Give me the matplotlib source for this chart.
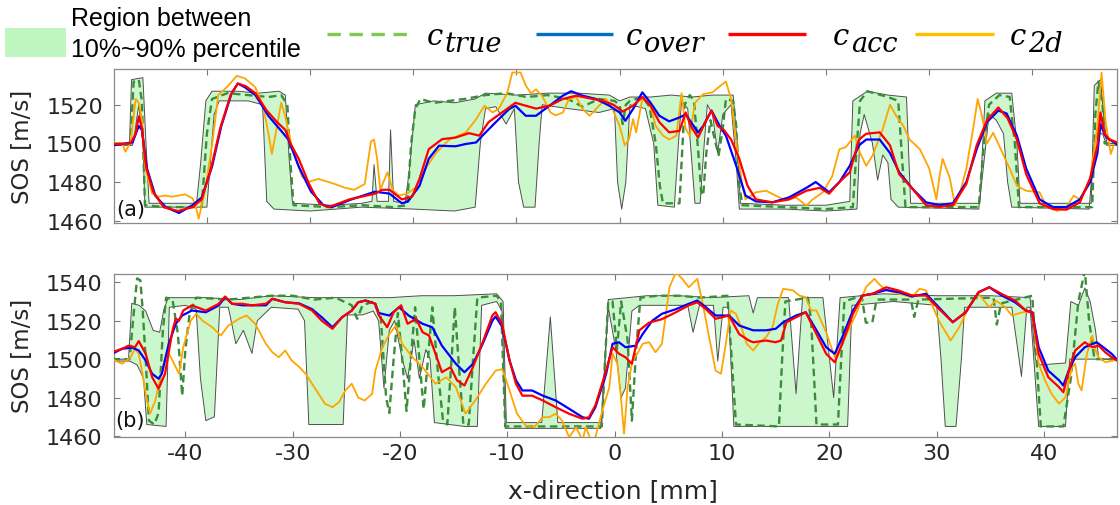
import matplotlib
matplotlib.use("Agg")
import matplotlib.pyplot as plt
import numpy as np
from matplotlib.patches import Rectangle

plt.rcParams["font.family"] = "DejaVu Sans"
plt.rcParams["axes.unicode_minus"] = False

# ---------------- panel (a) ----------------
a_true = [(-49.0, 1500), (-47.4, 1500), (-47.1, 1532), (-46.6, 1533), (-46.3, 1522), (-46.0, 1468), (-44, 1467),
          (-40.5, 1467), (-40.0, 1505), (-39.5, 1523), (-38, 1526), (-36, 1525), (-34, 1524), (-32.8, 1525),
          (-32.2, 1520), (-31.9, 1490), (-31.6, 1468), (-28, 1467), (-25, 1468), (-22, 1467), (-20.6, 1468),
          (-20.2, 1500), (-19.8, 1518), (-19.3, 1523), (-18, 1521), (-16.5, 1522), (-15, 1523), (-13, 1525),
          (-11, 1526), (-9, 1524), (-7, 1525), (-5, 1523), (-3.6, 1519), (-2, 1523), (-0.5, 1522), (0.0, 1520),
          (0.3, 1510), (0.6, 1520), (1.0, 1522), (2.2, 1524), (2.9, 1519), (3.5, 1500), (3.9, 1478), (4.2, 1469),
          (5.8, 1469), (6.1, 1500), (6.3, 1520), (6.8, 1525), (7.2, 1522), (7.6, 1497), (7.9, 1475), (8.1, 1473),
          (8.4, 1495), (8.8, 1512), (9.3, 1500), (9.6, 1494), (10.0, 1508), (10.3, 1523), (11.0, 1522),
          (11.3, 1509), (11.6, 1478), (11.9, 1468), (16, 1467), (20, 1466), (22.6, 1467), (23.0, 1500),
          (23.3, 1522), (24, 1527), (26, 1524), (27.0, 1522), (27.4, 1490), (27.7, 1467), (34.8, 1467),
          (35.3, 1500), (35.8, 1520), (36.8, 1525), (37.8, 1524), (38.3, 1500), (38.7, 1467), (45.8, 1467),
          (46.1, 1515), (46.4, 1532), (46.8, 1520), (47.0, 1500), (48.2, 1500)]

a_up = [(-49.0, 1500), (-47.5, 1500), (-47.3, 1533), (-46.2, 1534), (-45.9, 1500), (-45.6, 1469), (-41.0, 1469),
        (-40.6, 1490), (-40.1, 1522), (-39.5, 1527), (-37, 1527), (-35, 1526), (-33, 1527), (-32.4, 1525),
        (-32.0, 1490), (-31.7, 1469), (-28, 1468), (-25, 1469), (-24.0, 1470), (-23.8, 1489), (-23.5, 1470),
        (-22.4, 1470), (-22.2, 1507), (-21.9, 1470), (-20.8, 1469), (-20.4, 1485), (-19.8, 1520), (-18, 1522),
        (-16, 1521), (-14, 1523), (-13, 1526), (-10, 1525), (-7, 1526), (-4, 1526), (-1, 1525), (0, 1522),
        (1, 1524), (3, 1524), (5, 1525), (7, 1524), (9, 1525), (11, 1525), (11.4, 1500), (11.7, 1469),
        (16, 1468), (20, 1468), (22.3, 1470), (22.6, 1522), (24, 1527), (26, 1525), (27.8, 1524), (28.2, 1469),
        (34.9, 1469), (35.4, 1522), (36.5, 1526), (38.0, 1526), (38.5, 1500), (38.8, 1469), (45.7, 1469),
        (46.0, 1530), (46.6, 1533), (46.9, 1515), (47.2, 1500), (48.2, 1500)]

a_lo = [(-49.0, 1499), (-47.2, 1499), (-47.0, 1505), (-46.6, 1520), (-46.2, 1500), (-46.0, 1467), (-40, 1467),
        (-39.3, 1515), (-38.8, 1522), (-36, 1522), (-34.6, 1520), (-34.2, 1470), (-33.5, 1466), (-30, 1465),
        (-25, 1467), (-20, 1466), (-16, 1465), (-14, 1467), (-13.5, 1500), (-13.0, 1518), (-12, 1519),
        (-11, 1510), (-10.2, 1518), (-9.8, 1480), (-9.3, 1467), (-8.2, 1467), (-7.8, 1500), (-7.5, 1520),
        (-5, 1518), (-2, 1516), (-0.5, 1518), (-0.2, 1480), (0.2, 1466), (0.6, 1480), (1.0, 1520), (2.5, 1518),
        (3.3, 1500), (3.7, 1468), (5.3, 1467), (5.7, 1500), (6.0, 1522), (6.6, 1518), (7.0, 1490), (7.3, 1469),
        (7.8, 1469), (8.2, 1500), (8.5, 1520), (9.0, 1515), (9.5, 1495), (10.0, 1515), (10.8, 1520),
        (11.3, 1490), (11.6, 1466), (16, 1466), (20, 1465), (23.0, 1466), (23.3, 1505), (23.7, 1515),
        (24.5, 1500), (25.0, 1481), (25.5, 1494), (26.0, 1490), (26.3, 1471), (27, 1467), (34.8, 1466),
        (35.3, 1490), (35.8, 1515), (36.5, 1512), (37.2, 1505), (37.6, 1480), (38.0, 1467), (45.5, 1466),
        (46.0, 1500), (46.3, 1505), (46.8, 1505), (47.2, 1499), (48.2, 1499)]

a_over = [(-49.1, 1499), (-47.2, 1500.5), (-46.6, 1509), (-46.3, 1507), (-45.8, 1487), (-45.0, 1473),
          (-44.0, 1467), (-42.7, 1464), (-41.4, 1468), (-40.5, 1472), (-39.5, 1488), (-38.6, 1509),
          (-37.6, 1526), (-37.0, 1531), (-36.3, 1529), (-35.3, 1525), (-34.0, 1514), (-32.8, 1506.5),
          (-32.1, 1502), (-31.1, 1488), (-29.9, 1475), (-28.7, 1468), (-27.9, 1467), (-26, 1471), (-23.7, 1475),
          (-22.3, 1474), (-21.1, 1469), (-20.5, 1470), (-19.4, 1478), (-18.5, 1492), (-17.5, 1498.8),
          (-15.9, 1498.5), (-14.9, 1499.7), (-13.9, 1500.5), (-13.3, 1504), (-12.0, 1511), (-10.7, 1517.8),
          (-10.1, 1519.5), (-9.1, 1514.3), (-8.1, 1514.3), (-6.8, 1519.5), (-5.5, 1524.7), (-4.7, 1527),
          (-3.6, 1524.7), (-2.3, 1523), (-1.0, 1519.5), (0, 1516), (0.55, 1511.7), (1.3, 1517.8), (2.2, 1526.4),
          (3.0, 1521), (3.85, 1514.3), (4.8, 1511.4), (5.8, 1513.4), (6.4, 1515), (7.6, 1505.7), (8.1, 1509),
          (8.9, 1517), (9.7, 1509), (10.3, 1504), (11.3, 1488.4), (12.2, 1473), (13.2, 1470), (14.8, 1469.5),
          (16.4, 1472), (18.1, 1477), (19.0, 1480), (20.3, 1474.7), (21.3, 1480), (22.3, 1488.4), (23.2, 1499),
          (23.9, 1502), (25.2, 1502), (26.2, 1495), (27.1, 1485), (28.4, 1476.4), (29.7, 1469.5), (31.0, 1468),
          (32.3, 1469), (33.6, 1480), (34.6, 1497), (35.6, 1511), (36.7, 1517), (37.5, 1515.5), (38.5, 1504),
          (39.4, 1487), (40.7, 1471), (42.0, 1467), (43.3, 1467), (44.6, 1471), (45.6, 1480), (46.3, 1495),
          (46.6, 1510), (46.9, 1506), (47.2, 1503), (48.2, 1499.5)]

a_acc = [(-49.1, 1499.5), (-47.4, 1500), (-46.9, 1505), (-46.6, 1514), (-46.3, 1508), (-45.9, 1488),
         (-45.2, 1475), (-44.2, 1467), (-42.8, 1465), (-41.4, 1467), (-40.5, 1471), (-39.6, 1487),
         (-38.7, 1508), (-37.7, 1525), (-37.0, 1531), (-36.2, 1529.5), (-35.3, 1526), (-34.2, 1517),
         (-33.2, 1511), (-32.4, 1507), (-31.9, 1500), (-31.1, 1492), (-30.1, 1479), (-29.1, 1469),
         (-28.2, 1467), (-26.2, 1471), (-23.7, 1474), (-23.0, 1476), (-22.3, 1476), (-21.1, 1471),
         (-20.1, 1472.5), (-19.4, 1481.6), (-18.5, 1497), (-17.2, 1502.2), (-15.9, 1503), (-14.6, 1505.3),
         (-13.6, 1504), (-12.7, 1511), (-11.4, 1516), (-10.1, 1521), (-9.1, 1519.5), (-8.1, 1518),
         (-6.8, 1519.5), (-5.5, 1523), (-4.2, 1524.7), (-2.6, 1523), (-1.6, 1522), (-0.6, 1520), (0.3, 1516.5),
         (1.3, 1519.5), (2.2, 1524), (3.0, 1519.5), (3.85, 1511), (4.8, 1505.7), (5.8, 1506.5), (6.4, 1516),
         (6.9, 1509), (7.6, 1503), (8.3, 1511), (8.9, 1517), (9.5, 1509), (10.1, 1507), (10.8, 1502),
         (11.6, 1492), (12.4, 1478), (13.2, 1471), (14.8, 1469.5), (16.4, 1471), (18.1, 1475.5), (19.4, 1477),
         (20.3, 1474), (21.3, 1480), (22.3, 1485), (23.2, 1502), (23.9, 1505), (25.2, 1505.7), (26.2, 1499),
         (27.1, 1484), (28.4, 1476.4), (29.7, 1468), (31.0, 1467.2), (32.3, 1468), (33.6, 1479), (34.6, 1499),
         (35.6, 1512), (36.7, 1518.6), (37.6, 1513), (38.5, 1502), (39.4, 1484), (40.7, 1469), (42.0, 1466),
         (43.3, 1465.7), (44.6, 1469.5), (45.6, 1482), (46.3, 1499), (46.6, 1516), (47.0, 1505), (47.5, 1502),
         (48.2, 1500.5)]

a_2d = [(-49.1, 1500), (-48.2, 1500), (-47.9, 1495.7), (-47.4, 1500.5), (-46.9, 1523), (-46.6, 1521),
        (-46.3, 1512.6), (-46.0, 1488), (-45.3, 1474), (-44.7, 1472.4), (-44.0, 1473), (-43.4, 1472.4),
        (-42.1, 1473.6), (-41.4, 1471.6), (-41.1, 1468), (-40.8, 1461), (-40.5, 1468), (-40.2, 1475),
        (-39.5, 1499), (-38.9, 1525), (-37.9, 1530), (-37.1, 1535), (-36.3, 1533.6), (-35.3, 1529),
        (-34.5, 1518.6), (-34.0, 1504), (-33.7, 1494.5), (-33.2, 1509), (-32.8, 1521), (-32.4, 1514),
        (-31.8, 1499), (-30.8, 1483), (-30.2, 1480), (-29.2, 1481.6), (-28.2, 1480), (-27.6, 1479),
        (-26.6, 1477), (-25.7, 1476), (-24.7, 1479), (-24.1, 1501), (-23.8, 1502), (-23.5, 1492), (-23.2, 1476),
        (-22.5, 1485), (-22.0, 1476), (-21.4, 1473), (-20.6, 1474), (-19.8, 1477), (-18.8, 1487), (-17.8, 1495),
        (-16.5, 1502), (-14.9, 1505.7), (-13.9, 1512.6), (-13.1, 1519.5), (-12.3, 1516), (-11.7, 1518),
        (-10.9, 1526), (-10.4, 1536.7), (-9.6, 1536.7), (-9.1, 1530), (-8.6, 1526), (-8.1, 1528), (-7.5, 1524.5),
        (-6.7, 1516), (-6.2, 1514.5), (-5.5, 1516), (-4.9, 1523), (-4.2, 1524), (-3.6, 1517.8), (-2.9, 1514.3),
        (-2.0, 1519.5), (-1.3, 1523), (-0.7, 1517.8), (0, 1509), (0.5, 1499), (0.9, 1502), (1.3, 1512.6),
        (1.6, 1505.7), (2.2, 1523), (2.9, 1521), (3.5, 1509), (4.2, 1504), (4.8, 1502), (5.5, 1504), (6.0, 1526),
        (6.4, 1507.5), (6.8, 1504), (7.3, 1521), (8.1, 1525.5), (9.0, 1526.4), (9.8, 1530), (10.3, 1532),
        (10.8, 1523), (11.3, 1500.5), (11.9, 1478), (12.2, 1471), (13.2, 1474.7), (14.2, 1475.5), (15.1, 1473),
        (16.1, 1470.5), (17.1, 1472), (18.1, 1467.8), (18.7, 1471), (19.7, 1474.7), (20.6, 1483), (21.3, 1497),
        (21.9, 1498), (22.8, 1504), (23.3, 1495), (23.9, 1488.4), (24.5, 1493.6), (25.5, 1507.4), (26.2, 1520),
        (26.8, 1514.3), (27.5, 1509), (28.1, 1502), (29.1, 1497), (30.0, 1487), (30.7, 1471), (31.0, 1483),
        (31.3, 1492), (32.0, 1482), (32.5, 1468), (33.0, 1474.7), (33.6, 1487), (34.3, 1509), (34.7, 1523),
        (35.1, 1514.5), (35.6, 1500), (36.2, 1505.5), (37.2, 1494), (37.8, 1487), (38.5, 1478), (39.4, 1475.5),
        (40.7, 1474.7), (41.3, 1468), (42.4, 1465), (43.3, 1467), (44.0, 1473), (44.6, 1471), (45.6, 1481.5),
        (46.3, 1509), (46.7, 1536.7), (47.1, 1511), (47.6, 1494.5), (48.0, 1501), (48.2, 1500)]

# ---------------- panel (b) ----------------
b_true = [(-46.8, 1500), (-45.2, 1500), (-44.8, 1525), (-44.5, 1542), (-44.2, 1541), (-44.0, 1527), (-43.7, 1500),
          (-43.4, 1468), (-42.9, 1466), (-42.5, 1472), (-42.1, 1515), (-41.8, 1532), (-41.2, 1531), (-40.7, 1513),
          (-40.3, 1481), (-40.0, 1505), (-39.6, 1524), (-39.0, 1532), (-36, 1531), (-34, 1532), (-32, 1533),
          (-30, 1533), (-28, 1531), (-26, 1532), (-24.5, 1528), (-24.0, 1521), (-23.5, 1528), (-22.5, 1530),
          (-21.8, 1522), (-21.3, 1480), (-21.0, 1472), (-20.6, 1500), (-20.2, 1524), (-19.8, 1500), (-19.4, 1473),
          (-19.0, 1500), (-18.6, 1527), (-18.2, 1500), (-17.8, 1474), (-17.4, 1500), (-17.0, 1527), (-16.5, 1495),
          (-16.0, 1468), (-15.6, 1466), (-15.2, 1500), (-14.9, 1527), (-14.5, 1495), (-14.1, 1466), (-13.6, 1466),
          (-13.2, 1500), (-12.8, 1532), (-11, 1533), (-10.6, 1530), (-10.2, 1465), (-5, 1465), (-1.2, 1465),
          (-0.9, 1500), (-0.6, 1530), (-0.2, 1530), (0.2, 1505), (0.6, 1530), (1.2, 1510), (1.6, 1468),
          (2.0, 1505), (2.4, 1532), (4, 1533), (6, 1533), (8, 1532), (10.5, 1533), (10.9, 1500), (11.3, 1466),
          (15.3, 1465), (15.6, 1500), (15.9, 1530), (18, 1532), (18.3, 1520), (18.8, 1466), (20.8, 1466),
          (21.1, 1500), (21.4, 1530), (23, 1533), (23.4, 1519), (24.0, 1519), (24.4, 1531), (27.6, 1531),
          (27.9, 1522), (28.3, 1531), (35.3, 1532), (35.6, 1518), (36.0, 1529), (38.9, 1533), (39.3, 1500),
          (39.7, 1465), (41.8, 1465), (42.5, 1490), (43.2, 1530), (43.8, 1546), (44.2, 1520), (44.7, 1500),
          (45.1, 1500), (46.8, 1500)]

b_up = [(-46.8, 1500), (-45.3, 1500), (-45.0, 1529), (-44.3, 1528), (-43.7, 1525), (-43.0, 1515), (-42.4, 1514),
        (-42.0, 1526), (-41.6, 1532), (-38, 1532), (-35, 1531), (-32, 1533), (-28, 1532), (-24, 1532), (-21, 1532),
        (-18, 1533), (-15, 1533), (-11, 1534), (-10.4, 1530), (-10.1, 1467), (-6.8, 1467), (-6.0, 1522),
        (-5.3, 1467), (-1.2, 1467), (-0.6, 1531), (3, 1533), (6, 1533), (9, 1532), (12.5, 1533), (12.9, 1524),
        (13.3, 1532), (16.2, 1532), (16.9, 1482), (17.5, 1532), (19.4, 1532), (20.4, 1480), (21.0, 1532),
        (25, 1534), (30, 1533), (35, 1533), (38.7, 1532), (39.2, 1500), (39.6, 1497), (42.0, 1498), (42.5, 1530),
        (43.2, 1528), (43.8, 1537), (44.3, 1530), (44.8, 1515), (45.1, 1500), (46.8, 1500)]

b_lo = [(-46.8, 1499), (-45.2, 1499), (-44.5, 1497), (-43.9, 1490), (-43.6, 1466), (-41.8, 1465), (-41.5, 1527),
        (-40, 1528), (-39.0, 1526), (-38.6, 1490), (-38.1, 1468), (-37.3, 1470), (-36.8, 1527), (-36, 1527),
        (-35.3, 1508), (-34.6, 1515), (-33.8, 1503), (-33.3, 1520), (-32, 1527), (-29.5, 1526), (-28.9, 1520),
        (-28.5, 1466), (-25.3, 1466), (-24.9, 1523), (-23.5, 1523), (-22.5, 1525), (-22.0, 1520), (-21.5, 1485),
        (-21.0, 1515), (-20.5, 1520), (-19.8, 1500), (-19.3, 1490), (-18.7, 1510), (-18.2, 1490), (-17.6, 1505),
        (-17.2, 1500), (-16.8, 1467), (-14, 1465), (-12.8, 1465), (-12.4, 1528), (-11, 1530), (-10.5, 1525),
        (-10.2, 1464), (-1.3, 1464), (-0.6, 1527), (0.1, 1505), (0.6, 1480), (1.0, 1485), (1.6, 1525),
        (2.3, 1528), (6.8, 1528), (7.3, 1514), (7.9, 1528), (9.2, 1528), (9.6, 1499), (10.1, 1527), (10.6, 1527),
        (11.1, 1465), (21.7, 1465), (22.1, 1528), (26, 1530), (30, 1528), (30.4, 1500), (30.8, 1465),
        (31.8, 1465), (32.3, 1500), (32.6, 1527), (37.0, 1527), (37.9, 1491), (38.4, 1527), (38.7, 1527),
        (39.5, 1465), (42.0, 1465), (42.4, 1500), (46.8, 1500)]

b_over = [(-46.83, 1502.8), (-45.9, 1505.4), (-44.97, 1506), (-44.35, 1504.5), (-43.7, 1499.3), (-43.1, 1492.4),
          (-42.5, 1489.8), (-42.2, 1492.4), (-41.55, 1508), (-40.9, 1518.4), (-40.3, 1522.7), (-39.4, 1525.3),
          (-38.1, 1524.4), (-36.9, 1527.9), (-36.3, 1532.2), (-35.65, 1528.8), (-34.7, 1528), (-33.8, 1528),
          (-32.5, 1528), (-31.9, 1531.4), (-30.7, 1529.6), (-29.4, 1529), (-28.2, 1526), (-27.3, 1521.8),
          (-26.3, 1516.6), (-25.4, 1521.8), (-24.5, 1525.3), (-23.9, 1529.6), (-23.2, 1530.5), (-22.3, 1528.8),
          (-22.0, 1524), (-21.0, 1522.7), (-20.1, 1527), (-19.2, 1522.7), (-17.9, 1518.4), (-17.0, 1516.6),
          (-16.1, 1507), (-14.8, 1497.6), (-14.0, 1493.2), (-13.2, 1497.6), (-12.3, 1508), (-11.4, 1520),
          (-11.1, 1522.2), (-10.5, 1517), (-9.8, 1499.3), (-9.2, 1489), (-8.6, 1483.7), (-7.7, 1483.7),
          (-6.7, 1481), (-5.5, 1478.5), (-4.25, 1474.2), (-3.0, 1469.8), (-2.4, 1469), (-1.8, 1475),
          (-0.8, 1492.4), (-0.2, 1508), (0.4, 1508.8), (1.0, 1506.2), (1.95, 1507), (2.6, 1513), (3.5, 1520),
          (4.4, 1523.6), (5.7, 1526), (6.9, 1528.8), (7.7, 1530.5), (8.5, 1527), (9.4, 1522.7), (10.65, 1522.7),
          (11.6, 1517.5), (12.9, 1515), (14.1, 1515), (15.0, 1515.8), (15.7, 1519.2), (16.9, 1522.7),
          (17.8, 1524.4), (18.8, 1515), (19.7, 1506.2), (20.5, 1502.8), (21.2, 1511.4), (22.2, 1525.3),
          (23.1, 1533.1), (24.0, 1534), (25.3, 1536), (26.5, 1534.8), (27.7, 1532.6), (29.0, 1534), (30.2, 1527),
          (31.5, 1519.2), (32.7, 1524.4), (33.9, 1534.8), (34.9, 1537.4), (36.1, 1533), (37.3, 1529.6),
          (38.3, 1525.3), (38.9, 1524.4), (39.5, 1506.2), (40.4, 1494), (41.4, 1489), (41.8, 1486.3), (42.3, 1494),
          (42.9, 1501), (43.8, 1506.2), (44.9, 1508.8), (45.7, 1505.4), (46.3, 1502.8), (46.8, 1499.7)]

b_acc = [(-46.83, 1503.6), (-45.9, 1505.4), (-45.3, 1507), (-44.7, 1506.2), (-44.35, 1509.4), (-43.7, 1502.8),
         (-43.1, 1490.6), (-42.5, 1484.6), (-41.9, 1492.4), (-41.2, 1515), (-40.9, 1521), (-40.6, 1520),
         (-40.2, 1525.3), (-39.4, 1528), (-38.1, 1525.3), (-36.9, 1528.8), (-36.3, 1532.6), (-35.65, 1528.8),
         (-34.7, 1528.8), (-33.8, 1528), (-32.5, 1528.8), (-31.9, 1531.4), (-30.7, 1529.6), (-29.4, 1528.8),
         (-28.2, 1525.3), (-27.3, 1520), (-26.3, 1515.8), (-25.4, 1521.8), (-24.5, 1525.3), (-23.9, 1529.6),
         (-23.2, 1530.5), (-22.3, 1528.8), (-22.0, 1523), (-21.2, 1516.6), (-20.6, 1524.4), (-19.9, 1528),
         (-19.3, 1518.4), (-18.5, 1521), (-17.9, 1514), (-17.3, 1512.3), (-16.7, 1502.8), (-16.1, 1493.2),
         (-15.3, 1495.8), (-14.7, 1489), (-14.0, 1486.3), (-13.2, 1496), (-12.3, 1508.8), (-11.4, 1522.7),
         (-11.1, 1524.4), (-10.5, 1518.4), (-9.8, 1499.3), (-9.2, 1487.2), (-8.6, 1481), (-7.7, 1481),
         (-6.7, 1478.5), (-5.5, 1475), (-4.25, 1471.6), (-3.0, 1469), (-2.4, 1469.8), (-1.8, 1476), (-0.8, 1494),
         (-0.2, 1506.2), (0.4, 1502.8), (1.0, 1501), (1.6, 1497.6), (2.3, 1515), (3.2, 1519), (4.4, 1520.8),
         (5.7, 1524.4), (6.9, 1528), (7.7, 1529.6), (8.5, 1526), (9.4, 1521), (10.65, 1522.7), (11.6, 1513),
         (12.5, 1509.7), (12.9, 1508.8), (14.1, 1509.7), (15.0, 1508.8), (15.5, 1509.7), (16.0, 1519.2),
         (16.9, 1521.8), (17.8, 1524.4), (18.8, 1513), (19.7, 1502.8), (20.5, 1498.4), (21.2, 1508),
         (22.2, 1523.6), (23.1, 1533.1), (24.0, 1534), (25.3, 1537.4), (26.5, 1535.6), (27.7, 1533.1),
         (29.0, 1533.1), (30.2, 1526.2), (31.5, 1519.2), (32.7, 1524.4), (33.9, 1534.8), (34.9, 1537.4),
         (36.1, 1533.8), (37.3, 1530.5), (38.3, 1525.3), (38.9, 1524.4), (39.5, 1502.8), (40.4, 1490.6),
         (41.4, 1485.4), (41.8, 1482.8), (42.4, 1495.8), (42.9, 1504.5), (43.8, 1508.8), (44.5, 1506.2),
         (45.1, 1507), (45.7, 1503.6), (46.3, 1501), (46.8, 1499.3)]

b_2d = [(-46.83, 1500), (-45.9, 1497.6), (-45.1, 1501), (-44.7, 1505.4), (-44.35, 1502.8), (-44.0, 1492.4),
        (-43.7, 1482), (-43.3, 1471.6), (-42.8, 1478.5), (-42.2, 1494), (-41.7, 1504.5), (-41.2, 1499.3),
        (-40.6, 1492.4), (-40.2, 1506.2), (-39.5, 1520), (-39.0, 1523.6), (-38.4, 1520), (-37.5, 1516.6),
        (-36.7, 1512.3), (-36.0, 1517.5), (-35.0, 1521), (-34.3, 1522.7), (-33.5, 1518.4), (-32.5, 1508),
        (-31.9, 1503.6), (-31.3, 1501), (-30.7, 1504.5), (-30.1, 1499.3), (-29.4, 1496), (-28.8, 1492.4),
        (-28.2, 1487.2), (-27.6, 1482), (-27.0, 1476.8), (-26.3, 1475), (-25.7, 1477.6), (-25.1, 1483.7),
        (-24.5, 1487.2), (-23.9, 1480), (-23.3, 1478.5), (-22.6, 1482), (-22.3, 1494), (-21.65, 1506.2),
        (-21.0, 1513), (-20.4, 1517.5), (-19.8, 1508), (-18.85, 1501), (-17.9, 1495.8), (-16.7, 1487.2),
        (-15.7, 1490.6), (-14.8, 1485.4), (-13.9, 1471.6), (-13.0, 1478.5), (-12.0, 1487.2), (-11.1, 1494),
        (-10.5, 1494.8), (-10.2, 1490.6), (-9.7, 1482), (-9.1, 1471.6), (-8.3, 1465.5), (-7.5, 1464.6),
        (-6.7, 1469.8), (-6.1, 1469.8), (-5.5, 1471.6), (-4.9, 1468), (-4.25, 1459.4), (-3.6, 1464.6),
        (-3.0, 1457.7), (-2.7, 1464.6), (-2.2, 1457.7), (-1.8, 1459.4), (-1.15, 1473.3), (-0.5, 1485.4),
        (-0.2, 1502.8), (0.25, 1497.6), (0.55, 1482), (0.87, 1461.2), (1.2, 1485.4), (1.65, 1499.3),
        (2.1, 1502.8), (2.6, 1508), (3.2, 1508.8), (3.8, 1503.6), (4.4, 1508), (5.1, 1537.4), (5.7, 1545.2),
        (6.3, 1541.8), (6.9, 1537.4), (7.7, 1541.8), (8.2, 1528.8), (8.8, 1511.4), (9.4, 1494), (9.9, 1492.4),
        (10.3, 1506.2), (10.8, 1525.3), (11.3, 1523.6), (11.9, 1515), (12.3, 1508), (12.9, 1504.5),
        (13.5, 1508.8), (14.1, 1511.4), (14.7, 1516.6), (15.2, 1528.8), (15.7, 1536.6), (16.6, 1535.8),
        (17.2, 1533.1), (17.8, 1532.2), (18.3, 1525.3), (18.8, 1525.3), (19.7, 1514), (20.5, 1501), (21.2, 1508),
        (21.9, 1516.6), (22.5, 1523.6), (23.4, 1537.4), (24.2, 1541.8), (24.6, 1539.2), (25.3, 1535.8),
        (26.5, 1534), (27.7, 1532.2), (28.4, 1536.6), (29.0, 1535.8), (30.2, 1520), (31.3, 1509.7),
        (32.1, 1516.6), (33.0, 1527), (33.9, 1534), (34.9, 1527), (35.5, 1530.5), (36.4, 1527), (37.0, 1522.7),
        (38.0, 1524.4), (38.9, 1524.4), (39.5, 1497.6), (40.1, 1488.9), (40.7, 1482), (41.4, 1476.8),
        (42.0, 1480.2), (42.6, 1495.8), (42.9, 1497.6), (43.2, 1487.2), (43.5, 1483.7), (44.0, 1502.8),
        (44.5, 1512.3), (44.8, 1504.5), (45.1, 1501), (45.7, 1498.4), (46.8, 1499.7)]

x_ticks = [-40, -30, -20, -10, 0, 10, 20, 30, 40]
a_yticks = [1460, 1480, 1500, 1520]
b_yticks = [1460, 1480, 1500, 1520, 1540]
legend_labels = [("c", "true"), ("c", "over"), ("c", "acc"), ("c", "2d")]

BAND = "#ccf7cc"
EDGE = "#4f4f4f"
TRUE_C = "#3b8c3b"
OVER_C = "#0000ff"
ACC_C = "#ff0000"
C2D_C = "#ffa500"


def cols(pts):
    a = np.array(pts, dtype=float)
    return a[:, 0], a[:, 1]


def draw_panel(ax, up, lo, true, over, acc, c2d, xlim, ylim, yticks, tag, tag_y):
    ux, uy = cols(up)
    lx, ly = cols(lo)
    ax.fill(np.r_[ux, lx[::-1]], np.r_[uy, ly[::-1]], color=BAND, lw=0, zorder=1)
    ax.plot(ux, uy, color=EDGE, lw=0.7, zorder=2)
    ax.plot(lx, ly, color=EDGE, lw=0.7, zorder=2)
    tx, ty = cols(true)
    ax.plot(tx, ty, color=TRUE_C, lw=1.7, ls=(0, (3.2, 1.9)), zorder=3)
    ox, oy = cols(c2d)
    ax.plot(ox, oy, color=C2D_C, lw=1.3, zorder=4)
    bx, by = cols(over)
    ax.plot(bx, by, color=OVER_C, lw=1.6, zorder=5)
    rx, ry = cols(acc)
    ax.plot(rx, ry, color=ACC_C, lw=1.6, zorder=6)

    ax.set_xlim(*xlim)
    ax.set_ylim(*ylim)
    ax.set_xticks(x_ticks)
    ax.set_yticks(yticks)
    ax.tick_params(direction="in", length=4, width=0.8, color="#7a7a7a", labelcolor="#262626",
                   labelsize=16, top=True, right=True)
    ax.tick_params(axis="y", pad=8)
    ax.tick_params(axis="x", pad=4)
    for s in ax.spines.values():
        s.set_color("#8a8a8a")
        s.set_linewidth(0.9)
    ax.text(0.002, tag_y, tag, transform=ax.transAxes, ha="left", va="center", fontsize=15, color="#111111",
            zorder=8)


fig = plt.figure(figsize=(11.2, 5.06), dpi=100)
ax_a = fig.add_axes([114 / 1120, 1 - 224 / 506, 1003 / 1120, 154 / 506])
ax_b = fig.add_axes([113.5 / 1120, 1 - 438 / 506, 1003.5 / 1120, 163 / 506])

draw_panel(ax_a, a_up, a_lo, a_true, a_over, a_acc, a_2d, (-49.0, 48.2), (1458.8, 1538.5), a_yticks, "(a)", 0.09)
ax_a.tick_params(labelbottom=False)
draw_panel(ax_b, b_up, b_lo, b_true, b_over, b_acc, b_2d, (-46.7, 46.8), (1459.5, 1544.3), b_yticks, "(b)", 0.104)

fig.text(23 / 1120, 1 - 147 / 506, "SOS [m/s]", rotation=90, ha="center", va="center", fontsize=16.5,
         color="#262626")
fig.text(23 / 1120, 1 - 356 / 506, "SOS [m/s]", rotation=90, ha="center", va="center", fontsize=16.5,
         color="#262626")
fig.text(613 / 1120, 1 - 491 / 506, "x-direction [mm]", ha="center", va="center", fontsize=18,
         color="#262626")

# legend drawn in pixel coordinates on an overlay
lax = fig.add_axes([0, 0, 1, 1], zorder=10)
lax.set_xlim(0, 1120)
lax.set_ylim(506, 0)
lax.axis("off")
lax.add_patch(Rectangle((5, 29), 61, 29, facecolor="#bff5bf", edgecolor="none"))
lax.text(71, 19, "Region between", fontsize=18, family="Liberation Sans", va="center", ha="left")
lax.text(71, 50, "10%~90% percentile", fontsize=18, family="Liberation Sans", va="center", ha="left")

legend_lines = [((327, 411), "#80c850", (0, (4.0, 2.6))), ((536, 613), "#0070c0", "-"),
                ((728, 806), "#ff0000", "-"), ((915, 994), "#ffc000", "-")]
label_x = [427, 626, 833, 1010]
for ((x0, x1), c, ls), (main, sub), lx0 in zip(legend_lines, legend_labels, label_x):
    lax.plot([x0, x1], [35, 35], color=c, lw=2.4, ls=ls, solid_capstyle="butt", dash_capstyle="butt")
    lax.text(lx0, 45, main, family="DejaVu Serif", style="italic", fontsize=21, va="baseline", ha="left")
    lax.text(lx0 + 18, 52, sub, family="DejaVu Serif", style="italic", fontsize=19.5, va="baseline", ha="left")

fig.savefig("out.png", dpi=100, facecolor="white")
